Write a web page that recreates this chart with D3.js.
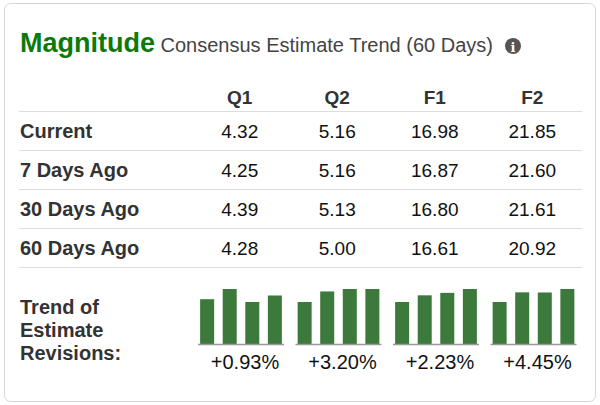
<!DOCTYPE html>
<html><head><meta charset="utf-8">
<script src="https://cdn.jsdelivr.net/npm/d3@7"></script>
<style>body{margin:0;background:#fff;font-family:"Liberation Sans",Arial,sans-serif}</style>
</head><body><div id="chart"></div>
<script>
var columns = ["Q1", "Q2", "F1", "F2"];
var rowLabels = ["Current", "7 Days Ago", "30 Days Ago", "60 Days Ago"];
var current = ["4.32", "5.16", "16.98", "21.85"];
var days7 = ["4.25", "5.16", "16.87", "21.60"];
var days30 = ["4.39", "5.13", "16.80", "21.61"];
var days60 = ["4.28", "5.00", "16.61", "20.92"];
var changes = ["+0.93%", "+3.20%", "+2.23%", "+4.45%"];
var rows = [current, days7, days30, days60];

var svg = d3.select("#chart").append("svg")
  .attr("width", 600).attr("height", 405);

svg.append("rect").attr("x", 4.5).attr("y", 3.5).attr("width", 591).attr("height", 398)
  .attr("rx", 6).attr("fill", "#fff").attr("stroke", "#d6d6d6");

var title = svg.append("text").attr("x", 20).attr("y", 52);
title.append("tspan").text("Magnitude").attr("font-size", 27).attr("font-weight", "bold").attr("fill", "#0a7a0a");
title.append("tspan").text(" Consensus Estimate Trend (60 Days)").attr("font-size", 20).attr("fill", "#444");
svg.append("circle").attr("cx", 513).attr("cy", 46).attr("r", 8).attr("fill", "#555");
svg.append("text").attr("x", 513).attr("y", 51.5).attr("text-anchor", "middle")
  .attr("font-size", 13).attr("font-weight", "bold").attr("fill", "#fff").attr("font-family", "DejaVu Serif").text("i");

var xcol = d3.scaleBand().domain(columns).range([191, 581]);
var yrow = d3.scaleBand().domain(d3.range(rows.length)).range([111, 267]);

svg.selectAll(".hdr").data(columns).enter().append("text")
  .attr("x", d => xcol(d) + xcol.bandwidth() / 2).attr("y", 104)
  .attr("text-anchor", "middle").attr("font-size", 19).attr("font-weight", "bold").attr("fill", "#333").text(d => d);

svg.selectAll(".sep").data([-1].concat(d3.range(rows.length))).enter().append("line")
  .attr("x1", 19).attr("x2", 582)
  .attr("y1", d => (d < 0 ? 111 : yrow(d) + yrow.bandwidth()) + 0.5)
  .attr("y2", d => (d < 0 ? 111 : yrow(d) + yrow.bandwidth()) + 0.5)
  .attr("stroke", "#ddd");

rows.forEach(function (r, i) {
  var cy = yrow(i) + yrow.bandwidth() / 2 + 7;
  svg.append("text").attr("x", 20).attr("y", cy).attr("font-size", 20).attr("font-weight", "bold")
    .attr("fill", "#333").text(rowLabels[i]);
  svg.selectAll(null).data(r).enter().append("text")
    .attr("x", (d, j) => xcol(columns[j]) + xcol.bandwidth() / 2).attr("y", cy)
    .attr("text-anchor", "middle").attr("font-size", 19).attr("fill", "#111").text(d => d);
});

["Trend of", "Estimate", "Revisions:"].forEach(function (t, i) {
  svg.append("text").attr("x", 20).attr("y", 314 + i * 23).attr("font-size", 20).attr("font-weight", "bold")
    .attr("fill", "#333").text(t);
});

// sparkline bars, oldest to newest
var baseY = 344;
columns.forEach(function (c, j) {
  var vals = [days60[j], days30[j], days7[j], current[j]].map(Number);
  var h = d3.scaleLinear().domain(d3.extent(vals)).range([42, 55]);
  var gx = d3.scaleBand().domain(d3.range(4)).range([0, 84]).paddingInner(0.38).paddingOuter(0.05);
  var x0 = xcol(c) + 8;
  svg.selectAll(null).data(vals).enter().append("rect")
    .attr("x", (d, k) => x0 + gx(k)).attr("width", gx.bandwidth())
    .attr("y", d => baseY - h(d)).attr("height", d => h(d)).attr("fill", "#3b7a3b");
  svg.append("line").attr("x1", x0 - 1).attr("x2", x0 + 85).attr("y1", baseY + 0.5).attr("y2", baseY + 0.5)
    .attr("stroke", "#999").attr("stroke-width", 1.5);
  svg.append("text").attr("x", x0 + 46).attr("y", 369).attr("text-anchor", "middle")
    .attr("font-size", 20).attr("fill", "#111").text(changes[j]);
});
</script></body></html>
